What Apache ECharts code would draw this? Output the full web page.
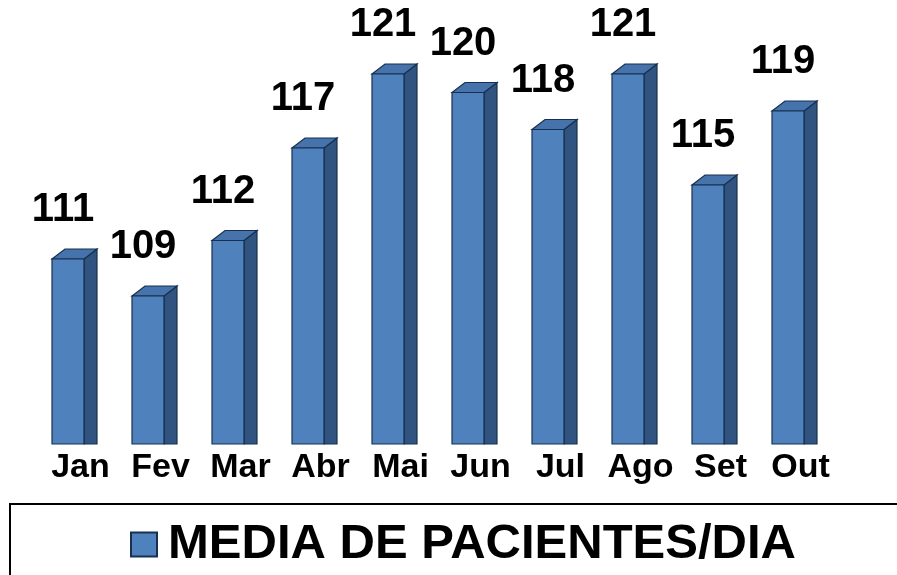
<!DOCTYPE html>
<html>
<head>
<meta charset="utf-8">
<script src="https://cdn.jsdelivr.net/npm/echarts@6/dist/echarts.min.js"></script>
<style>
  html, body { margin: 0; padding: 0; background: #fff; }
  #chart { width: 897px; height: 575px; }
</style>
</head>
<body>
<div id="chart"></div>
<script>
var months = ["Jan", "Fev", "Mar", "Abr", "Mai", "Jun", "Jul", "Ago", "Set", "Out"];
var media = [111, 109, 112, 117, 121, 120, 118, 121, 115, 119];
var seriesName = "MEDIA DE PACIENTES/DIA";
var axisMin = 101;
var axisMax = 125;

var FONT = 'Arial, "Liberation Sans", sans-serif';

var myChart = echarts.init(document.getElementById("chart"));

// barra 3D: frente + lado + topo
function renderBar(params, api) {
  var idx = api.value(0);
  var val = api.value(1);
  var top = api.coord([idx, val]);
  var base = api.coord([idx, axisMin]);
  var cx = top[0];
  var fw = 32, dep = 13, dy = 10;
  var x0 = cx - 22.5, x1 = x0 + fw;
  var yT = top[1], yB = base[1];
  var stroke = "#17304F";
  return {
    type: "group",
    children: [
      {
        type: "polygon",
        shape: { points: [[x1, yT], [x1 + dep, yT - dy], [x1 + dep, yB], [x1, yB]] },
        style: { fill: "#30537F", stroke: stroke, lineWidth: 1.2 }
      },
      {
        type: "polygon",
        shape: { points: [[x0, yT], [x0 + dep, yT - dy], [x1 + dep, yT - dy], [x1, yT]] },
        style: { fill: "#4673AC", stroke: stroke, lineWidth: 1.2 }
      },
      {
        type: "rect",
        shape: { x: x0, y: yT, width: fw, height: yB - yT },
        style: { fill: "#4F81BD", stroke: stroke, lineWidth: 1.2 }
      },
      {
        type: "text",
        style: {
          text: String(val),
          x: x0 + fw / 2 - 5,
          y: yT - dy - 19,
          align: "center",
          verticalAlign: "bottom",
          fill: "#000",
          font: "bold 40px " + FONT
        }
      }
    ]
  };
}

var option = {
  backgroundColor: "#fff",
  animation: false,
  grid: {
    left: 34.5,
    width: 800,
    top: 0,
    bottom: 131
  },
  xAxis: {
    type: "category",
    data: months,
    axisLine: { show: false },
    axisTick: { show: false },
    splitLine: { show: false },
    axisLabel: {
      interval: 0,
      margin: 7,
      color: "#000",
      fontFamily: FONT,
      fontWeight: "bold",
      fontSize: 34,
      padding: [0, 0, 0, 12]
    }
  },
  yAxis: {
    type: "value",
    min: axisMin,
    max: axisMax,
    show: false
  },
  legend: {
    data: [seriesName],
    left: 130,
    top: 520,
    padding: 0,
    icon: "rect",
    itemWidth: 26,
    itemHeight: 24,
    itemGap: 10,
    textStyle: {
      color: "#000",
      fontFamily: FONT,
      fontWeight: "bold",
      fontSize: 49,
      padding: [0, 0, 0, 6]
    }
  },
  graphic: [
    {
      type: "rect",
      shape: { x: 10, y: 504, width: 900, height: 100 },
      style: { fill: "none", stroke: "#000", lineWidth: 2 },
      z: -1
    }
  ],
  series: [
    {
      name: seriesName,
      type: "custom",
      renderItem: renderBar,
      itemStyle: { color: "#4F81BD", borderColor: "#17304F", borderWidth: 1 },
      encode: { x: 0, y: 1 },
      data: media.map(function (v, i) { return [i, v]; })
    }
  ]
};

myChart.setOption(option);
</script>
</body>
</html>
